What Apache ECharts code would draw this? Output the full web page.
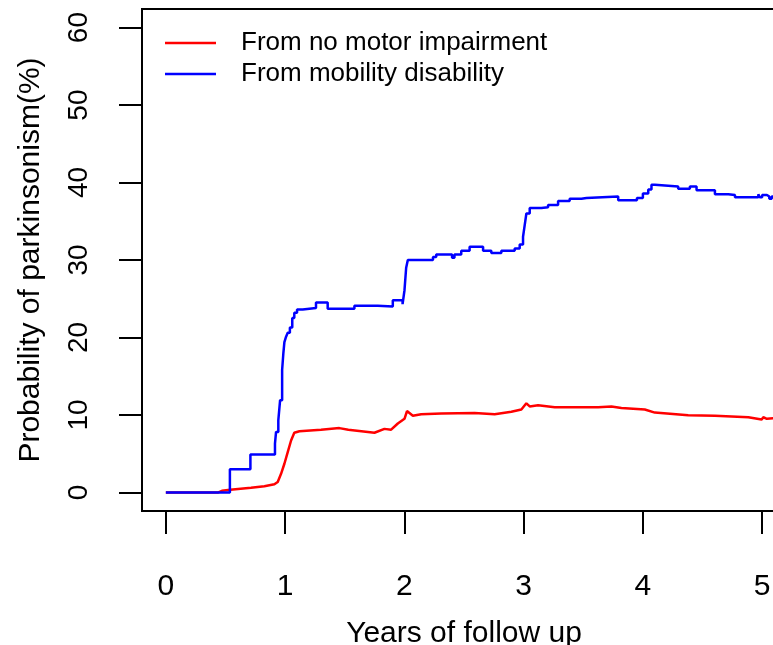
<!DOCTYPE html>
<html>
<head>
<meta charset="utf-8">
<script src="https://cdn.jsdelivr.net/npm/echarts@6/dist/echarts.min.js"></script>
<style>
  html, body { margin: 0; padding: 0; background: #fff; }
  #myChart { width: 773px; height: 645px; }
</style>
</head>
<body>
<div id="myChart"></div>
<script>
var seriesNames = ['From no motor impairment', 'From mobility disability'];
var xTicks = [0, 1, 2, 3, 4, 5];
var yTicks = [0, 10, 20, 30, 40, 50, 60];

// from no motor impairment (red)
var redTimes = [0, 0.44, 0.47, 0.54, 0.714, 0.826, 0.91, 0.938, 0.966, 0.994, 1.022, 1.05, 1.077, 1.12,
  1.301, 1.455, 1.53, 1.749, 1.833, 1.889, 1.945, 2.001, 2.022, 2.071, 2.141, 2.309, 2.589, 2.757,
  2.897, 2.981, 3.023, 3.051, 3.121, 3.261, 3.625, 3.736, 3.82, 4.016, 4.1, 4.38, 4.604, 4.884,
  4.996, 5.01, 5.04, 5.12];
var redValues = [0, 0, 0.2, 0.35, 0.6, 0.8, 1.05, 1.35, 2.4, 3.7, 5.2, 6.7, 7.7, 7.9,
  8.1, 8.3, 8.1, 7.7, 8.2, 8.1, 8.9, 9.5, 10.5, 9.9, 10.1, 10.2, 10.25, 10.1,
  10.4, 10.7, 11.5, 11.1, 11.25, 11.0, 11.0, 11.1, 10.9, 10.7, 10.3, 9.96, 9.9, 9.7,
  9.4, 9.7, 9.5, 9.6];

// from mobility disability (blue), value jumps at each time
var blueTimes = [0, 0.537, 0.709, 0.915, 0.924, 0.943, 0.958, 0.975, 0.985, 0.994, 1.008, 1.022, 1.04,
  1.06, 1.077, 1.10, 1.148, 1.259, 1.357, 1.581, 1.777, 1.903, 1.985, 2.001, 2.015, 2.029, 2.24,
  2.267, 2.40, 2.42, 2.477, 2.547, 2.66, 2.729, 2.813, 2.925, 2.967, 2.995, 3.009, 3.023, 3.051,
  3.149, 3.205, 3.289, 3.386, 3.485, 3.527, 3.793, 3.95, 4.0, 4.045, 4.072, 4.1, 4.296, 4.394,
  4.45, 4.604, 4.716, 4.772, 4.968, 4.98, 5.0, 5.04, 5.06, 5.08, 5.12];
var blueValues = [0, 3.0, 4.9, 6.3, 7.8, 9.3, 11.9, 15.8, 17.9, 19.4, 20.1, 20.6, 21.3,
  22.5, 23.2, 23.6, 23.8, 24.5, 23.7, 24.1, 24.0, 24.8, 24.3, 26.1, 29.0, 30.0, 30.4,
  30.7, 30.3, 30.7, 31.2, 31.7, 31.2, 30.9, 31.2, 31.5, 32.0, 33.0, 34.5, 36.0, 36.7,
  36.8, 37.1, 37.6, 37.9, 38.0, 38.2, 37.7, 38.0, 38.6, 39.1, 39.7, 39.5, 39.2, 39.5,
  39.0, 38.5, 38.4, 38.1, 38.5, 38.1, 38.4, 38.2, 37.9, 38.2, 38.2];

function pairs(xs, ys) {
  return xs.map(function (x, i) { return [x, ys[i]]; });
}

var font = '"Liberation Sans", Arial, sans-serif';

var option = {
  animation: false,
  backgroundColor: '#fff',
  grid: {
    left: 142, top: 9, right: -13, bottom: 134,
    outerBoundsMode: 'none',
    show: true, borderColor: '#000', borderWidth: 2
  },
  legend: {
    left: 160, top: 25, orient: 'vertical',
    icon: 'rect', itemWidth: 51, itemHeight: 2.5, itemGap: 5,
    data: seriesNames,
    textStyle: { fontFamily: font, fontSize: 26, color: '#000', padding: [0, 0, 0, 20] }
  },
  xAxis: {
    type: 'value', min: -0.2, max: 5.2,
    name: 'Years of follow up', nameLocation: 'middle', nameGap: 108,
    nameTextStyle: { fontFamily: font, fontSize: 30, color: '#000' },
    splitLine: { show: false },
    axisLine: { show: true, onZero: false, lineStyle: { color: '#000', width: 2 } },
    axisTick: { show: true, length: 23, customValues: xTicks, lineStyle: { color: '#000', width: 2 } },
    axisLabel: { customValues: xTicks, margin: 61, fontFamily: font, fontSize: 30, color: '#000' }
  },
  yAxis: {
    type: 'value', min: -2.4, max: 62.4,
    name: 'Probability of parkinsonism(%)', nameLocation: 'middle', nameGap: 96,
    nameTextStyle: { fontFamily: font, fontSize: 30, color: '#000' },
    splitLine: { show: false },
    axisLine: { show: true, onZero: false, lineStyle: { color: '#000', width: 2 } },
    axisTick: { show: true, length: 23, customValues: yTicks, lineStyle: { color: '#000', width: 2 } },
    axisLabel: { customValues: yTicks, rotate: 90, margin: 49, fontFamily: font, fontSize: 28, color: '#000' }
  },
  series: [
    {
      name: seriesNames[0], type: 'line', data: pairs(redTimes, redValues),
      symbol: 'none', color: '#ff0000', lineStyle: { width: 2.5 }
    },
    {
      name: seriesNames[1], type: 'line', step: 'end', data: pairs(blueTimes, blueValues),
      symbol: 'none', color: '#0000ff', lineStyle: { width: 2.5 }
    }
  ]
};

var myChart = echarts.init(document.getElementById('myChart'));
myChart.setOption(option);
</script>
</body>
</html>
